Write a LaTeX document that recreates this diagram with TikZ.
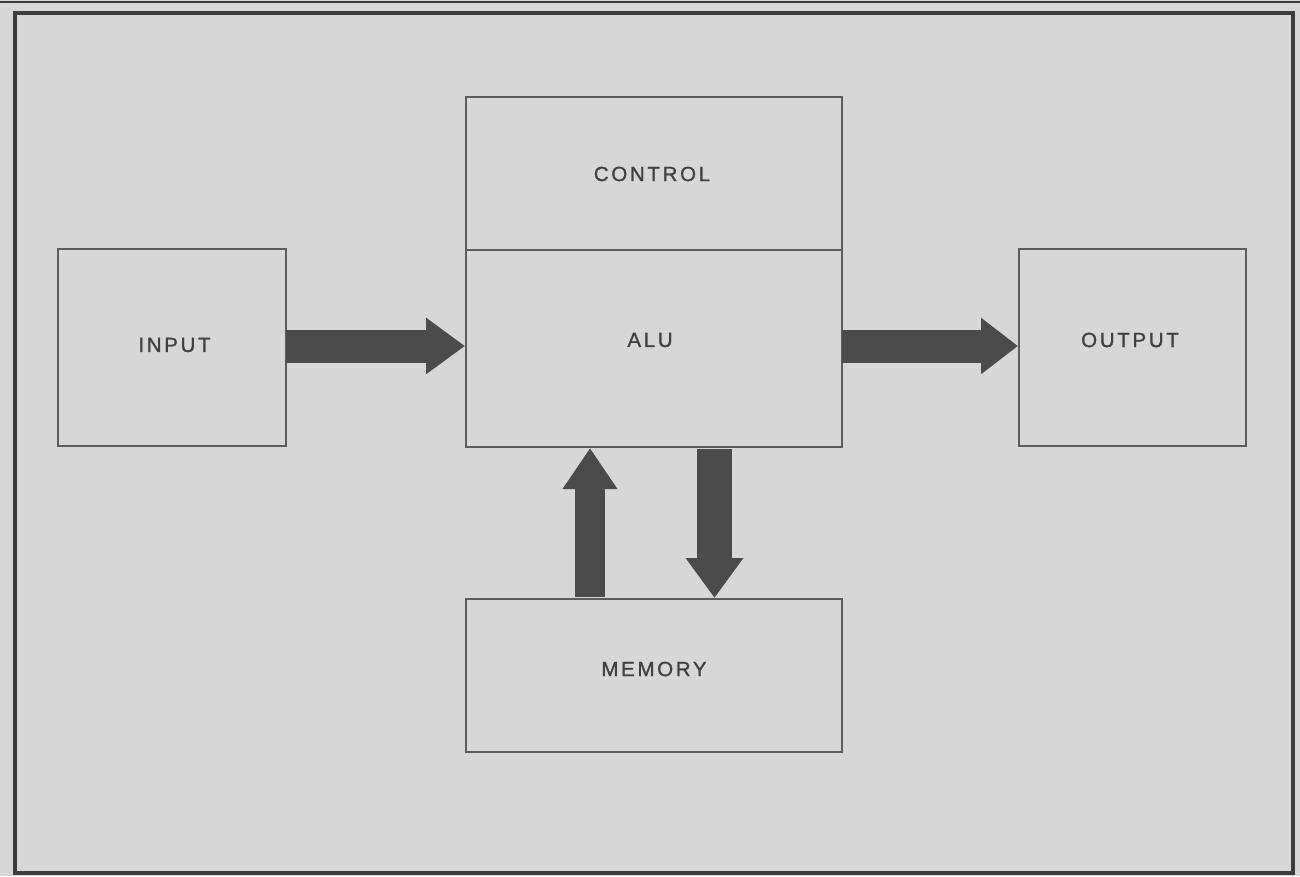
\documentclass[tikz,border=0pt]{standalone}
\usepackage{fontspec}
\newfontfamily\lblfont[LetterSpace=13,FakeBold=1.2]{Liberation Sans}
\usetikzlibrary{arrows.meta}
\definecolor{paper}{HTML}{D7D7D7}
\definecolor{boxline}{HTML}{5C5C5C}
\definecolor{framecol}{HTML}{3C3C3C}
\definecolor{arrowcol}{HTML}{4B4B4B}
\definecolor{textcol}{HTML}{404040}
\tikzset{
  box/.style={draw=boxline, line width=2pt, rectangle, inner sep=0pt},
  lbl/.style={font=\lblfont\fontsize{20.5pt}{24pt}\selectfont, text=textcol, inner sep=0pt},
  fat/.style={draw=arrowcol, line width=#1},
}
\begin{document}
\begin{tikzpicture}[x=1pt,y=-1pt]
\useasboundingbox (0,0) rectangle (1300,876);
\fill[paper] (0,0) rectangle (1300,876);
\draw[framecol, line width=2pt] (0,1.5) -- (1300,1.5);
\draw[framecol, line width=3.5pt] (15,13) rectangle (1293,873);

\node[box, minimum width=228pt, minimum height=197pt] (input) at (172,347.5) {};
\node[box, minimum width=376pt, minimum height=153pt] (control) at (654,173.5) {};
\node[box, minimum width=376pt, minimum height=197pt] (alu) at (654,348.5) {};
\node[box, minimum width=227pt, minimum height=197pt] (output) at (1132.5,347.5) {};
\node[box, minimum width=376pt, minimum height=153pt] (memory) at (654,675.5) {};

\node[lbl] (tcontrol) at (652,174) {CONTROL};
\node[lbl] (talu) at (650,340) {ALU};
\node[lbl] (tinput) at (174.5,345) {INPUT};
\node[lbl] (toutput) at (1130,340) {OUTPUT};
\node[lbl] (tmemory) at (654,669) {MEMORY};

% horizontal arrows
\coordinate (inA) at ([xshift=-1pt]input.east |- 0,346);
\coordinate (inB) at (alu.west |- 0,346);
\draw[fat=33pt, -{Triangle[length=39pt,width=54pt]}] (inA) -- (inB);
\coordinate (outA) at ([xshift=-1pt]alu.east |- 0,346);
\coordinate (outB) at (output.west |- 0,346);
\draw[fat=33pt, -{Triangle[length=37pt,width=54pt]}] (outA) -- (outB);
% vertical arrows
\coordinate (upA) at ([yshift=1pt]memory.north -| 590,0);
\coordinate (upB) at (alu.south -| 590,0);
\draw[fat=30pt, -{Triangle[length=41pt,width=52pt]}] (upA) -- (upB);
\coordinate (dnA) at ([yshift=-1pt]alu.south -| 714.5,0);
\coordinate (dnB) at (memory.north -| 714.5,0);
\draw[fat=35pt, -{Triangle[length=40pt,width=55pt]}] (dnA) -- (dnB);
\end{tikzpicture}
\end{document}
